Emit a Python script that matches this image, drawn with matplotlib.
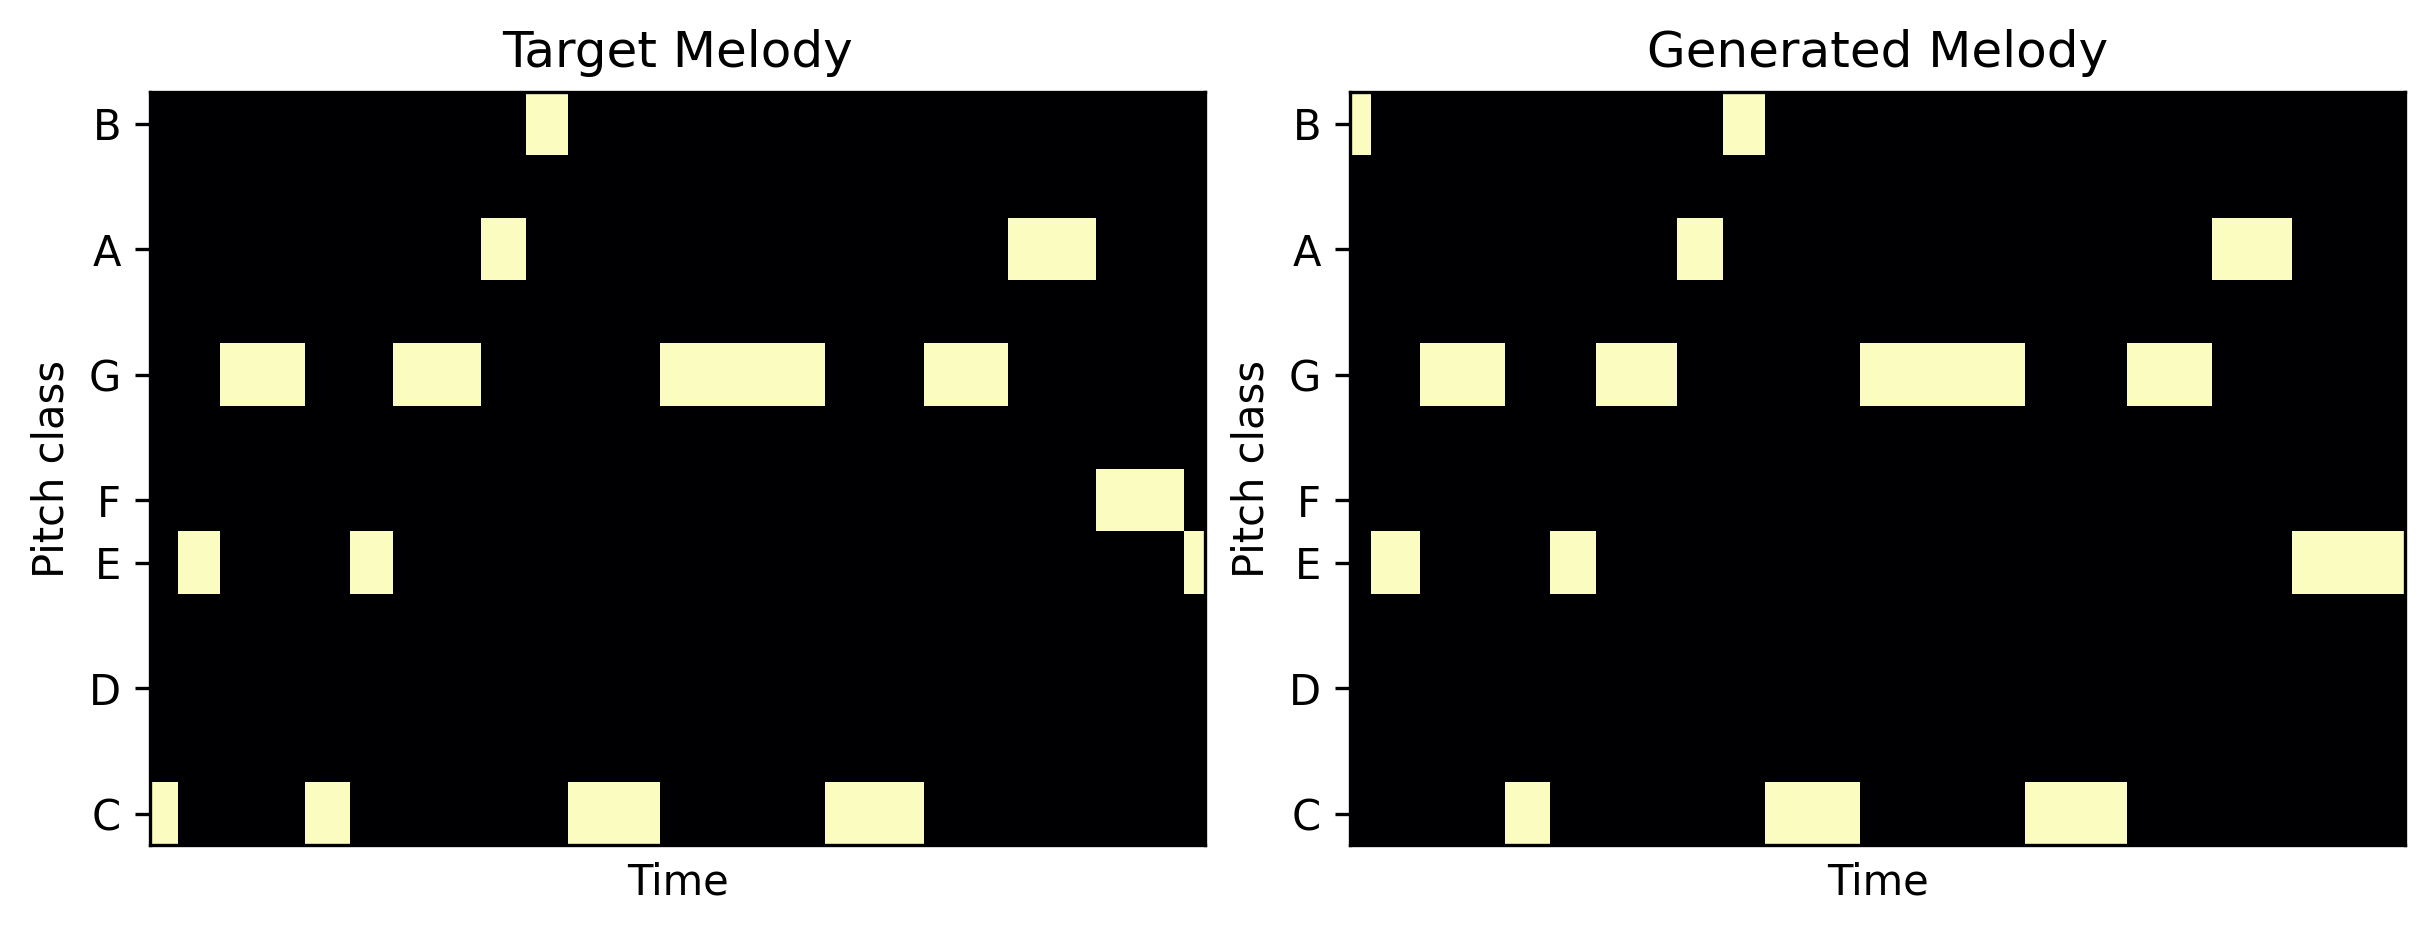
import numpy as np
import matplotlib
matplotlib.use('Agg')
import matplotlib.pyplot as plt

# piano roll settings
n_frames = 300
n_pitch = 12
tick_pitches = [0, 2, 4, 5, 7, 9, 11]
tick_names = ['C', 'D', 'E', 'F', 'G', 'A', 'B']

# target melody: pitch class, onset frame, offset frame
target_pitch = [0, 4, 7, 0, 4, 7, 9, 11, 0, 7, 0, 7, 9, 5, 4]
target_on = [0, 8, 20, 44, 57, 69, 94, 107, 119, 145, 192, 220, 244, 269, 294]
target_off = [8, 20, 44, 57, 69, 94, 107, 119, 145, 192, 220, 244, 269, 294, 300]

# generated melody
gen_pitch = [11, 4, 7, 0, 4, 7, 9, 11, 0, 7, 0, 7, 9, 4]
gen_on = [0, 6, 20, 44, 57, 70, 93, 106, 118, 145, 192, 221, 245, 268]
gen_off = [6, 20, 44, 57, 70, 93, 106, 118, 145, 192, 221, 245, 268, 300]


def make_roll(pitch, on, off):
    roll = np.zeros((n_pitch, n_frames))
    for p, a, b in zip(pitch, on, off):
        roll[p, a:b] = 1
    return roll


rolls = [make_roll(target_pitch, target_on, target_off),
         make_roll(gen_pitch, gen_on, gen_off)]
titles = ['Target Melody', 'Generated Melody']

fig = plt.figure(figsize=(2434 / 300, 934 / 300), dpi=300)
lefts = [150.2 / 2434, 1350.3 / 2434]
for roll, title, left in zip(rolls, titles, lefts):
    ax = fig.add_axes([left, 89 / 934, 1055 / 2434, 752.6 / 934])
    ax.imshow(roll, aspect='auto', origin='lower', cmap='magma',
              interpolation='nearest', vmin=0, vmax=1)
    ax.set_yticks(tick_pitches)
    ax.set_yticklabels(tick_names)
    ax.set_xticks([])
    ax.set_title(title)
    ax.set_xlabel('Time')
    ax.set_ylabel('Pitch class')

fig.savefig('out.png', dpi=300)
